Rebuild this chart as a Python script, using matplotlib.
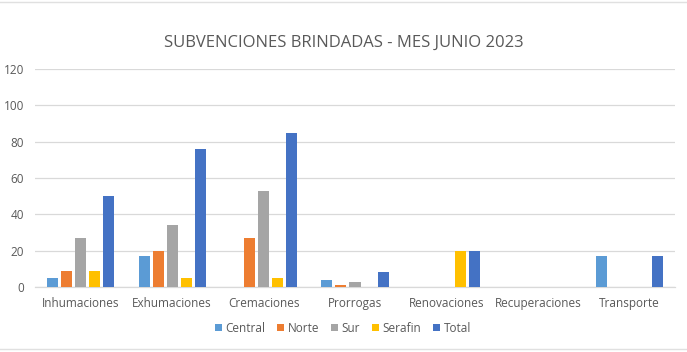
import matplotlib
matplotlib.use("Agg")
import matplotlib.pyplot as plt
import numpy as np

categories = ["Inhumaciones", "Exhumaciones", "Cremaciones", "Prorrogas",
              "Renovaciones", "Recuperaciones", "Transporte"]
central = [5, 17, 0, 4, 0, 0, 17]
norte = [9, 20, 27, 1, 0, 0, 0]
sur = [27, 34, 53, 3, 0, 0, 0]
serafin = [9, 5, 5, 0, 20, 0, 0]
total = [50, 76, 85, 8, 20, 0, 17]

series = [("Central", central, "#5B9BD5"),
          ("Norte", norte, "#ED7D31"),
          ("Sur", sur, "#A5A5A5"),
          ("Serafin", serafin, "#FFC000"),
          ("Total", total, "#4472C4")]

FONT = "Open Sans"
TXT = "#595959"
GRID = "#D9D9D9"

fig = plt.figure(figsize=(6.87, 3.52), dpi=100, facecolor="white")
ax = fig.add_axes([35 / 687, 1 - 287 / 352, 640 / 687, 218 / 352])

x = np.arange(len(categories))
pitch = 14 / 91.4
width = 11 / 91.4
for i, (name, vals, col) in enumerate(series):
    ax.bar(x + (i - 2) * pitch, vals, width=width, color=col, label=name, zorder=3)

ax.set_xlim(-0.5, len(categories) - 0.5)
ax.set_ylim(0, 120)
ax.set_yticks(range(0, 121, 20))
ax.yaxis.grid(True, color=GRID, linewidth=0.9, zorder=0)
ax.set_axisbelow(True)
for s in ["top", "right", "left"]:
    ax.spines[s].set_visible(False)
ax.spines["bottom"].set_color(GRID)
ax.spines["bottom"].set_linewidth(0.9)
ax.tick_params(axis="both", length=0, colors=TXT, labelsize=8.5)
ax.tick_params(axis="x", pad=7)
ax.tick_params(axis="y", pad=8)
ax.set_xticks(x)
ax.set_xticklabels(categories, fontfamily=FONT)
for lab in ax.get_yticklabels():
    lab.set_fontfamily(FONT)

fig.text(0.5, 1 - 43 / 352, "SUBVENCIONES BRINDADAS - MES JUNIO 2023",
         ha="center", va="center", fontsize=12, color=TXT, fontfamily=FONT)

leg = fig.legend(loc="center", bbox_to_anchor=(343 / 687, 1 - 328 / 352), ncol=5,
                 frameon=False, handlelength=0.6, handleheight=0.6,
                 handletextpad=0.3, columnspacing=1.0,
                 prop={"family": FONT, "size": 8.5})
for t in leg.get_texts():
    t.set_color(TXT)

# faint sheet borders at top and bottom
fig.add_artist(plt.Line2D([0, 1], [1 - 2 / 352, 1 - 2 / 352], color="#E0E0E0", lw=1))
fig.add_artist(plt.Line2D([0, 1], [1 - 349 / 352, 1 - 349 / 352], color="#E0E0E0", lw=1))

fig.savefig("out.png", dpi=100, facecolor="white")
